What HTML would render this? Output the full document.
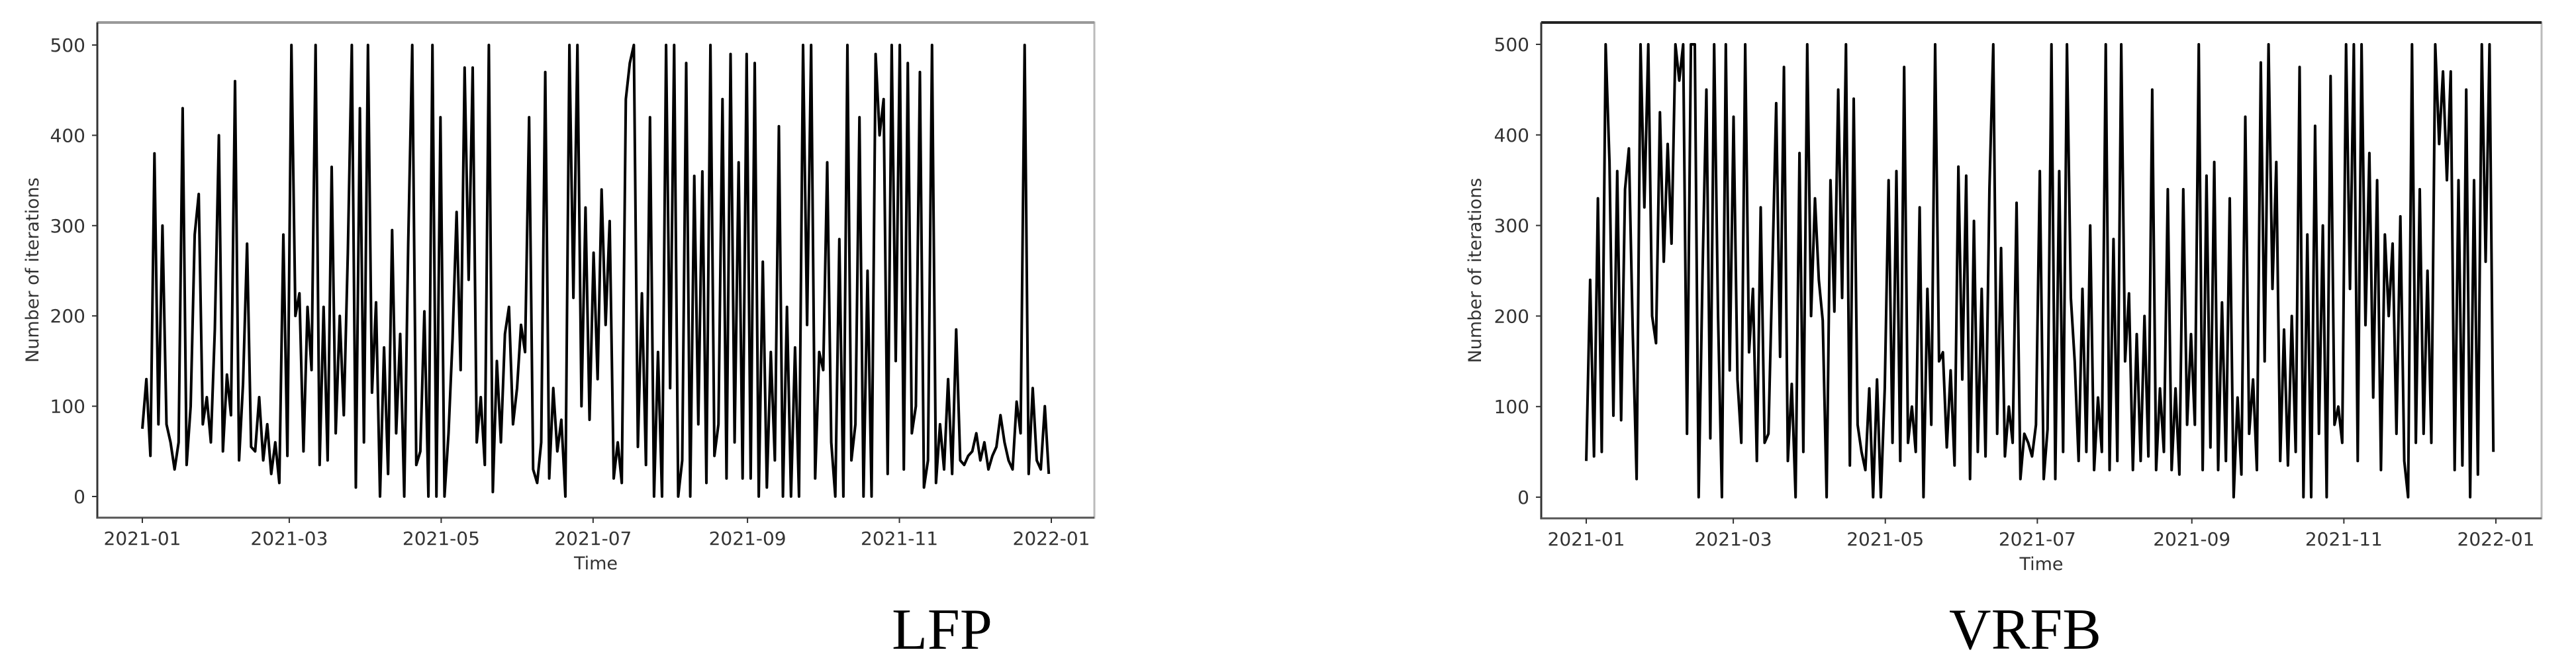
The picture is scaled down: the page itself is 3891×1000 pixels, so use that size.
<!DOCTYPE html>
<html><head><meta charset="utf-8"><style>
html,body{margin:0;padding:0;background:#fff;width:3891px;height:1000px;overflow:hidden}
svg{display:block}
text{font-family:"DejaVu Sans","Liberation Sans",sans-serif;fill:#333}
</style></head><body>
<svg id="fig" width="3891" height="1000" viewBox="0 0 3891 1000"></svg>
<script>
const tickLabelsX = ["2021-01","2021-03","2021-05","2021-07","2021-09","2021-11","2022-01"];
const tickDaysX = [0,59,120,181,243,304,365];
const tickValuesY = [0,100,200,300,400,500];
const lfpValues = [75,130,45,380,80,300,80,60,30,60,430,35,100,290,335,80,
110,60,185,400,50,135,90,460,40,125,280,55,50,110,
40,80,25,60,15,290,45,500,200,225,50,210,140,500,35,210,
40,365,70,200,90,270,500,10,430,60,500,115,215,0,165,
25,295,70,180,0,280,500,35,50,205,0,500,0,420,0,70,
175,315,140,475,240,475,60,110,35,500,5,150,60,180,210,
80,120,190,160,420,30,15,60,470,20,120,50,85,0,500,220,500,100,320,85,270,130,340,190,305,20,60,15,440,480,500,55,225,35,420,0,160,0,500,120,500,0,40,480,0,355,80,360,15,500,45,80,440,20,490,60,370,20,490,20,480,0,260,10,160,40,410,0,210,0,165,0,500,190,500,20,160,140,370,60,0,285,0,500,40,80,420,0,250,0,490,400,440,25,500,150,500,30,480,70,100,470,10,40,500,15,80,30,130,25,185,40,35,45,50,70,40,60,30,45,55,90,60,40,30,105,70,500,25,120,40,30,100,25];
const vrfbValues = [40,240,45,330,50,500,370,90,360,85,340,385,180,20,500,320,500,200,170,425,260,390,280,500,460,500,70,500,500,0,250,450,65,500,200,0,500,140,420,130,60,500,160,230,40,320,60,70,250,435,155,475,40,125,0,380,50,500,200,330,240,195,0,350,205,450,220,500,35,440,80,50,30,120,0,130,0,120,350,60,360,40,475,60,100,50,320,0,230,80,500,150,160,55,140,35,365,130,355,20,305,50,230,45,340,500,70,275,45,100,60,325,20,70,60,45,80,360,20,75,500,20,360,50,500,220,150,40,230,50,300,30,110,50,500,30,285,40,500,150,225,30,180,40,200,45,450,30,120,50,340,30,120,25,340,80,180,80,500,30,355,55,370,30,215,40,330,0,110,25,420,70,130,30,480,150,500,230,370,40,185,35,200,50,475,0,290,0,410,70,300,0,465,80,100,60,500,230,500,40,500,190,380,110,350,30,290,200,280,70,310,40,0,500,60,340,70,250,60,500,390,470,350,470,30,350,35,450,0,350,25,500,260,500,50];

const NS="http://www.w3.org/2000/svg";
const svg=document.getElementById('fig');
function mk(tag,attrs,parent){const e=document.createElementNS(NS,tag);for(const k in attrs)e.setAttribute(k,attrs[k]);(parent||svg).appendChild(e);return e;}

function drawChart(cfg){
  const g=mk('g',{});
  
  
  const xS=d=>cfg.x0+d*(cfg.x365-cfg.x0)/365;
  const yS=v=>cfg.y0+v*(cfg.y500-cfg.y0)/500;
  const f=mk('rect',{x:cfg.L,y:cfg.T,width:cfg.R-cfg.L,height:cfg.B-cfg.T,fill:'none',stroke:'#bbb','stroke-width':3},g);
  
  const top=mk('line',{x1:cfg.L,y1:cfg.T,x2:cfg.R,y2:cfg.T,stroke:cfg.topColor,'stroke-width':cfg.topW},g);
  
  const la=mk('line',{x1:cfg.L,y1:cfg.T,x2:cfg.L,y2:cfg.B+1.5,stroke:'#333','stroke-width':3},g);
  
  const ba=mk('line',{x1:cfg.L,y1:cfg.B,x2:cfg.R,y2:cfg.B,stroke:'#555','stroke-width':3},g);
  
  const n=cfg.values.length;
  let d='';
  cfg.values.forEach((v,i)=>{const day=i*364/(n-1);d+=(i?'L':'M')+xS(day).toFixed(1)+' '+yS(v).toFixed(1);});
  const p=mk('path',{d:d,fill:'none',stroke:'#000','stroke-width':4,'stroke-linejoin':'round'},g);
  
  tickValuesY.forEach(v=>{
    const y=yS(v);
    mk('line',{x1:cfg.L-8,y1:y,x2:cfg.L,y2:y,stroke:'#333','stroke-width':2},g);
    const t=mk('text',{x:cfg.L-18,y:y+10,'font-size':28,'text-anchor':'end'},g);
    t.textContent=v;
    
  });
  tickDaysX.forEach((dd,i)=>{
    const x=xS(dd);
    mk('line',{x1:x,y1:cfg.B,x2:x,y2:cfg.B+8,stroke:'#333','stroke-width':2},g);
    const t=mk('text',{x:x,y:cfg.B+41,'font-size':28,'text-anchor':'middle'},g);
    t.textContent=tickLabelsX[i];
    
  });
  const xt=mk('text',{x:(cfg.L+cfg.R)/2,y:cfg.B+78,'font-size':27,'text-anchor':'middle'},g);
  xt.textContent='Time';
  
  const yc=(cfg.T+cfg.B)/2;
  const yt=mk('text',{x:cfg.yLabX,y:yc,'font-size':27,'text-anchor':'middle',transform:`rotate(-90 ${cfg.yLabX} ${yc})`},g);
  yt.textContent='Number of iterations';
  
  const cap=mk('text',{x:cfg.capX,y:980,'font-size':88,'text-anchor':'middle',style:'font-family:"Liberation Serif",serif;fill:#000'},g);
  cap.textContent=cfg.caption;
  
}
drawChart({name:'lfp',values:lfpValues,L:147,R:1653,T:34,B:782,x0:215,x365:1588,y0:750,y500:68,topColor:'#999',topW:4,yLabX:58,capX:1423,caption:'LFP'});
drawChart({name:'vrfb',values:vrfbValues,L:2328,R:3839,T:34,B:783,x0:2396,x365:3770,y0:751,y500:67,topColor:'#222',topW:4,yLabX:2237,capX:3059,caption:'VRFB'});
</script>
</body></html>
